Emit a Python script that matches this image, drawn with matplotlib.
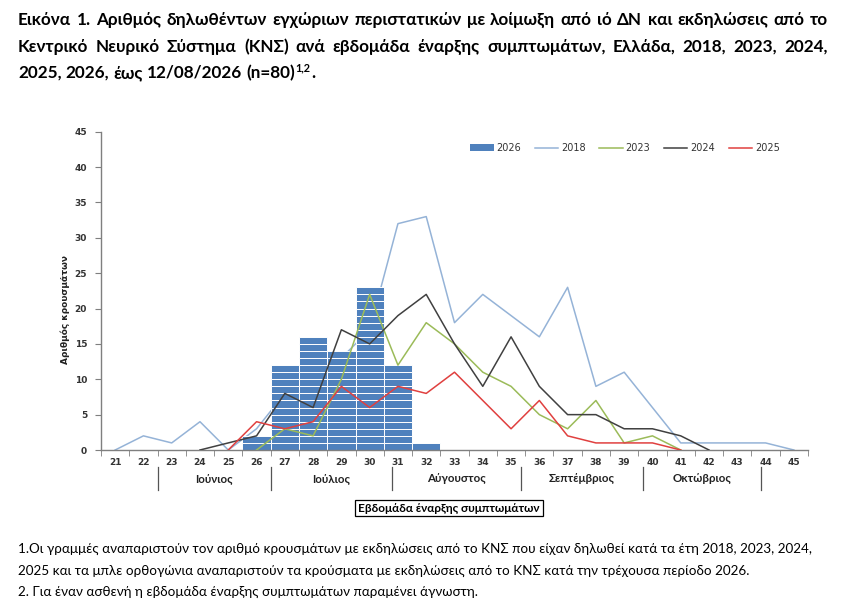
import numpy as np
import matplotlib
matplotlib.use("Agg")
import matplotlib.pyplot as plt
from matplotlib.patches import Rectangle
from matplotlib.lines import Line2D
import matplotlib.transforms as mtransforms

# ---------------- data ----------------
weeks = list(range(21, 46))
week_labels = [str(w) for w in weeks]

weeks_2026 = [26, 27, 28, 29, 30, 31, 32]
cases_2026 = [2, 12, 16, 14, 23, 12, 1]

weeks_2018 = list(range(21, 46))
cases_2018 = [0, 2, 1, 4, 0, 3, 8, 11, 13, 17, 32, 33, 18, 22, 19, 16, 23, 9, 11, 6, 1, 1, 1, 1, 0]

weeks_2023 = list(range(26, 42))
cases_2023 = [0, 3, 2, 10, 22, 12, 18, 15, 11, 9, 5, 3, 7, 1, 2, 0]

weeks_2024 = list(range(24, 43))
cases_2024 = [0, 1, 2, 8, 6, 17, 15, 19, 22, 15, 9, 16, 9, 5, 5, 3, 3, 2, 0]

weeks_2025 = list(range(25, 42))
cases_2025 = [0, 4, 3, 4, 9, 6, 9, 8, 11, 7, 3, 7, 2, 1, 1, 1, 0]

months = ["Ιούνιος", "Ιούλιος", "Αύγουστος", "Σεπτέμβριος", "Οκτώβριος"]
month_bounds = [22.5, 26.5, 30.8, 35.35, 39.65, 43.85]

title_lines = [
    "Εικόνα 1. Αριθμός δηλωθέντων εγχώριων περιστατικών με λοίμωξη από ιό ΔΝ και εκδηλώσεις από το",
    "Κεντρικό Νευρικό Σύστημα (ΚΝΣ) ανά εβδομάδα έναρξης συμπτωμάτων, Ελλάδα, 2018, 2023, 2024,",
    "2025, 2026, έως 12/08/2026 (n=80)",
]
footnotes = [
    "1.Οι γραμμές αναπαριστούν τον αριθμό κρουσμάτων με εκδηλώσεις από το ΚΝΣ που είχαν δηλωθεί κατά τα έτη 2018, 2023, 2024,",
    "2025 και τα μπλε ορθογώνια αναπαριστούν τα κρούσματα με εκδηλώσεις από το ΚΝΣ κατά την τρέχουσα περίοδο 2026.",
    "2. Για έναν ασθενή η εβδομάδα έναρξης συμπτωμάτων παραμένει άγνωστη.",
]

# ---------------- figure ----------------
W, H = 850, 615
fig = plt.figure(figsize=(W / 100, H / 100), dpi=100)
fig.patch.set_facecolor("white")

ax = fig.add_axes([101 / W, 1 - 450 / H, (808 - 101) / W, (450 - 131.7) / H])

c_bar = "#4F81BD"
c18 = "#95B3D7"
c23 = "#9BBB59"
c24 = "#404040"
c25 = "#E0403F"

# 2018 line behind the bars
ax.plot(weeks_2018, cases_2018, color=c18, lw=1.1, zorder=1)

# 2026 bars, drawn as stacked unit boxes
bx = np.repeat(weeks_2026, cases_2026)
bb = np.concatenate([np.arange(c) for c in cases_2026])
ax.bar(bx, 1, bottom=bb, width=1.0, color=c_bar, edgecolor="white", linewidth=0.7, zorder=2)

ax.plot(weeks_2023, cases_2023, color=c23, lw=1.1, zorder=3)
ax.plot(weeks_2024, cases_2024, color=c24, lw=1.1, zorder=3)
ax.plot(weeks_2025, cases_2025, color=c25, lw=1.1, zorder=3)

ax.set_xlim(20.5, 45.5)
ax.set_ylim(0, 45)
for s in ["top", "right"]:
    ax.spines[s].set_visible(False)
for s in ["left", "bottom"]:
    ax.spines[s].set_color("#7F7F7F")
    ax.spines[s].set_linewidth(1.0)

ax.set_yticks(range(0, 46, 5))
ax.set_yticklabels([str(v) for v in range(0, 46, 5)])
ax.set_xticks(weeks)
ax.set_xticklabels(week_labels)
ax.set_xticks(np.arange(20.5, 46, 1), minor=True)
ax.tick_params(axis="x", which="major", length=0, pad=6)
ax.tick_params(axis="x", which="minor", length=4, color="#7F7F7F", direction="out")
ax.tick_params(axis="y", length=4, color="#7F7F7F", direction="out", pad=6)
for lab in ax.get_xticklabels() + ax.get_yticklabels():
    lab.set_fontsize(6.5)
    lab.set_fontweight("bold")
    lab.set_color("#333333")
    lab.set_family("DejaVu Sans")

# month separators and labels
trans = mtransforms.blended_transform_factory(ax.transData, ax.transAxes)
for b in month_bounds:
    ax.add_line(Line2D([b, b], [-0.053, -0.126], transform=trans, color="#555555",
                       lw=0.9, clip_on=False))
for i, m in enumerate(months):
    xm = (month_bounds[i] + month_bounds[i + 1]) / 2
    ax.text(xm, -0.091, m, transform=trans, ha="center", va="center",
            fontsize=8.3, fontweight="bold", family="Lato", color="#222222")

# x label in a box
fig.text(449 / W, 1 - 508 / H, "Εβδομάδα έναρξης συμπτωμάτων", ha="center", va="center",
         fontsize=8.5, fontweight="bold", family="Lato", color="black",
         bbox=dict(boxstyle="square,pad=0.25", facecolor="white", edgecolor="black", lw=0.9))

# y label
fig.text(65 / W, 1 - 310 / H, "Αριθμός κρουσμάτων", rotation=90, ha="center", va="center",
         fontsize=6.5, fontweight="bold", family="DejaVu Sans", color="#222222")

# legend
handles = [Rectangle((0, 0), 1, 1, facecolor=c_bar, edgecolor="none"),
           Line2D([], [], color=c18, lw=1.1),
           Line2D([], [], color=c23, lw=1.1),
           Line2D([], [], color=c24, lw=1.1),
           Line2D([], [], color=c25, lw=1.1)]
leg = ax.legend(handles, ["2026", "2018", "2023", "2024", "2025"], ncol=5, frameon=False,
                loc="center", bbox_to_anchor=((625 - 101) / 707, (450 - 148) / 318.3),
                prop={"family": "DejaVu Sans", "size": 7}, handlelength=2.4,
                handletextpad=0.3, columnspacing=1.4, handleheight=0.7)
for t in leg.get_texts():
    t.set_color("#333333")

# ---------------- title (justified) ----------------
fig.canvas.draw()
renderer = fig.canvas.get_renderer()


def place_words(text, y, x0, x1, justify, **kw):
    words = text.split(" ")
    objs = [fig.text(0, y, w, ha="left", va="center", **kw) for w in words]
    widths = [o.get_window_extent(renderer).width for o in objs]
    if justify and len(words) > 1:
        gap = ((x1 - x0) - sum(widths)) / (len(words) - 1)
    else:
        sp = fig.text(0, y, "a a", **kw)
        sp2 = fig.text(0, y, "aa", **kw)
        gap = sp.get_window_extent(renderer).width - sp2.get_window_extent(renderer).width
        sp.remove(); sp2.remove()
    x = x0
    for o, w in zip(objs, widths):
        o.set_x(x / W)
        x += w + gap
    return x - gap


tkw = dict(family="Lato", fontweight="bold", fontsize=12.3, color="black")
ys = [20, 47, 73]
for i, line in enumerate(title_lines):
    end = place_words(line, 1 - ys[i] / H, 18, 828, i < 2, **tkw)
    if i == 2:
        sup = fig.text((end + 0.5) / W, 1 - (ys[i] - 5) / H, "1,2", ha="left", va="center",
                       family="Lato", fontweight="bold", fontsize=7.8, color="black")
        sw = sup.get_window_extent(renderer).width
        fig.text((end + sw + 1) / W, 1 - ys[i] / H, ".", ha="left", va="center", **tkw)

fkw = dict(family="Lato", fontsize=9.7, color="black")
fys = [549, 571, 592]
for i, line in enumerate(footnotes):
    fig.text(18 / W, 1 - fys[i] / H, line, ha="left", va="center", **fkw)

fig.savefig("out.png", dpi=100, facecolor="white")
